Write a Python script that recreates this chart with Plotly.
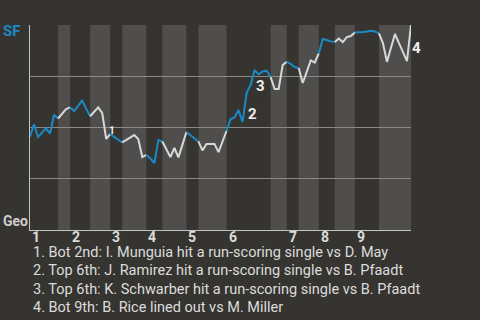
import plotly.graph_objects as go

# SF win probability after each plate appearance (index 0 = first pitch)
win_prob = [
    0.455, 0.516, 0.454, 0.475, 0.496, 0.470, 0.562, 0.544,          # Top 1
    0.568, 0.590, 0.598,                                              # Bot 1
    0.580, 0.605, 0.631, 0.592, 0.555,                                # Top 2
    0.578, 0.598, 0.571, 0.444, 0.468,                                # Bot 2
    0.454, 0.441, 0.427,                                              # Top 3
    0.439, 0.454, 0.463, 0.444, 0.356, 0.366,                         # Bot 3
    0.349, 0.327, 0.439, 0.432,                                       # Top 4
    0.390, 0.356, 0.400, 0.354, 0.415, 0.478,                         # Bot 4
    0.463, 0.449, 0.432,                                              # Top 5
    0.388, 0.420, 0.420, 0.420, 0.380, 0.429, 0.483,                  # Bot 5
    0.541, 0.549, 0.585, 0.527, 0.668, 0.707, 0.780, 0.759, 0.773,
    0.777, 0.746,                                                     # Top 6
    0.688, 0.688, 0.805, 0.820,                                       # Bot 6
    0.810, 0.795, 0.790,                                              # Top 7
    0.717, 0.771, 0.827, 0.817, 0.861,                                # Bot 7
    0.932, 0.927, 0.920, 0.917,                                       # Top 8
    0.934, 0.917, 0.941, 0.946, 0.963,                                # Bot 8
    0.966, 0.966, 0.968, 0.972, 0.968, 0.959,                         # Top 9
    0.912, 0.820, 0.888, 0.956, 0.912, 0.868, 0.824, 1.000,           # Bot 9
]

# plate appearances in each half inning, top 1st through bottom 9th
half_inning_pas = [7, 3, 5, 5, 3, 6, 4, 6, 3, 7, 11, 4, 3, 5, 4, 5, 6, 8]
inning_labels = ["1", "2", "3", "4", "5", "6", "7", "8", "9"]

# key plays: (label, plate appearance index)
event_labels = ["1", "2", "3", "4"]
event_index = [19, 54, 56, 95]
event_text = [
    "1. Bot 2nd: I. Munguia hit a run-scoring single vs D. May",
    "2. Top 6th: J. Ramirez hit a run-scoring single vs B. Pfaadt",
    "3. Top 6th: K. Schwarber hit a run-scoring single vs B. Pfaadt",
    "4. Bot 9th: B. Rice lined out vs M. Miller",
]

team_top = "SF"
team_bottom = "Geo"

BG = "#363431"
BAND = "#4f4e4c"
GRID = "#8a8987"
AXIS = "#c4c4c2"
BLUE = "#1a8ac6"
WHITE = "#d8d8d8"
TEXT = "#dcdcdc"
FONT = "Roboto"

n_pa = len(win_prob) - 1

# half-inning boundaries
bounds = [0]
for n in half_inning_pas:
    bounds.append(bounds[-1] + n)

fig = go.Figure()
shapes = []
for h in range(len(half_inning_pas)):
    x0, x1 = bounds[h], bounds[h + 1]
    if h % 2 == 1:
        shapes.append(dict(type="rect", xref="x", yref="paper", x0=x0, x1=x1,
                           y0=0, y1=1, fillcolor=BAND, line_width=0, layer="below"))
    fig.add_trace(go.Scatter(
        x=list(range(x0, x1 + 1)), y=win_prob[x0:x1 + 1], mode="lines",
        line=dict(color=BLUE if h % 2 == 0 else WHITE, width=2),
        hoverinfo="skip", showlegend=False))

annotations = []
# inning numbers at the start of each inning
for i, lab in enumerate(inning_labels):
    annotations.append(dict(x=bounds[2 * i], y=0, xref="x", yref="paper",
                            text=f"<b>{lab}</b>", showarrow=False, xanchor="left",
                            yanchor="top", xshift=0, yshift=3,
                            font=dict(family=FONT, size=14, color=TEXT)))

# event markers beside the line
event_offsets = [(1, 8, 10), (-1, -21, 15), (-1, -16, 15), (-1, -23, 15)]
for lab, idx, (dx, dy, sz) in zip(event_labels, event_index, event_offsets):
    annotations.append(dict(x=idx, y=win_prob[idx], xref="x", yref="y",
                            text=f"<b>{lab}</b>", showarrow=False, xanchor="left",
                            yanchor="middle", xshift=dx, yshift=dy,
                            font=dict(family=FONT, size=sz, color="#f0f0f0")))

# team names on the left
annotations.append(dict(x=0, y=1, xref="paper", yref="paper", text=f"<b>{team_top}</b>",
                        showarrow=False, xanchor="left", yanchor="middle",
                        xshift=-29, yshift=-6,
                        font=dict(family=FONT, size=15, color=BLUE)))
annotations.append(dict(x=0, y=0, xref="paper", yref="paper", text=f"<b>{team_bottom}</b>",
                        showarrow=False, xanchor="left", yanchor="middle",
                        xshift=-29, yshift=9,
                        font=dict(family=FONT, size=14, color="#cfcfcf")))

# key play descriptions below the chart
for k, line in enumerate(event_text):
    annotations.append(dict(x=0, y=0, xref="paper", yref="paper", text=line,
                            showarrow=False, xanchor="left", yanchor="middle",
                            xshift=1, yshift=-22.5 - 18.3 * k,
                            font=dict(family=FONT, size=14.5, color=TEXT)))

fig.update_layout(
    width=480, height=320,
    margin=dict(l=30, r=69, t=25, b=90, pad=0),
    paper_bgcolor=BG, plot_bgcolor=BG,
    shapes=shapes, annotations=annotations,
    xaxis=dict(range=[0, n_pa], showgrid=False, zeroline=False, showticklabels=False,
               ticks="", showline=True, linecolor=AXIS, linewidth=1, fixedrange=True),
    yaxis=dict(range=[0, 1], tickvals=[0.25, 0.5, 0.75, 1.0], showgrid=True,
               gridcolor=GRID, gridwidth=1, zeroline=False, showticklabels=False,
               ticks="", showline=True, linecolor=AXIS, linewidth=1, fixedrange=True),
    showlegend=False,
)

fig.write_html("out.html", config={"displayModeBar": False, "staticPlot": True})
